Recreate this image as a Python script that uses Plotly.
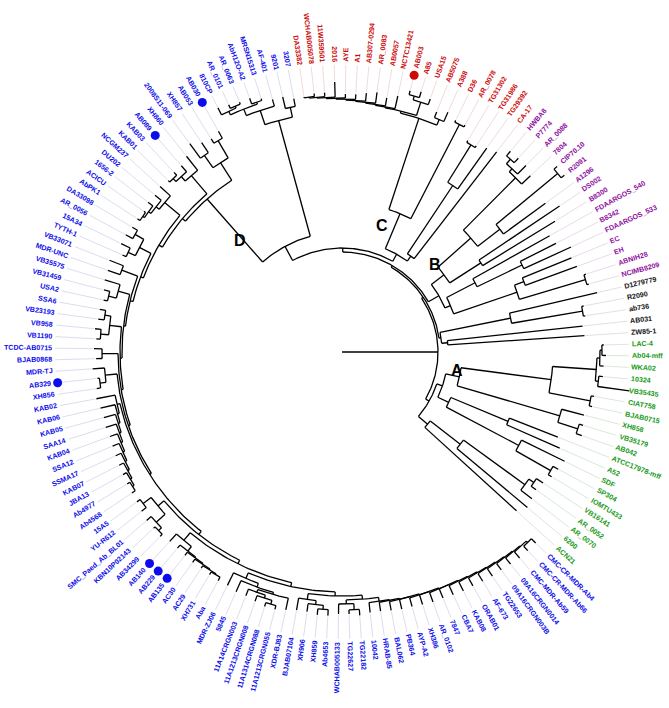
import math
import re
import plotly.graph_objects as go

# tree data: newick-like strings, the number after ":" is the distance from the root
CLADE_A = ("((ACN21:236,(6200:242,(AR_0070:240,(AR_0052:238,VB16141:240):232):226):150):112,"
           "((((IOMTU433:244,SP304:246):240,SDF:248):200,(A52:238,ATCC17978-mff:232):180):118,"
           "(((AB042:254,VB35179:252):248,XH858:250):227,((BJAB0715:256,CIAT758:256):253,"
           "((VB35435:290,10324:262):258,(WKA02:262,(Ab04-mff:264,LAC-4:262):260):258):255):211):120):106):100")
CLADE_K = "((ZW85-1:243,AB031:242):106,((ab736:246,R2090:246):244,D1279779:262):172):100"
CLADE_B = ("((((NCIMB8209:256,ABNIH28:256):254,(EH:250,EC:248):195):185,"
           "((FDAARGOS_533:252,B8342:240):200,FDAARGOS_540:238):150):118,"
           "((B8300:250,DS002:262):165,((A1296:252,(R2091:284,CIP70.10:284):280):200,"
           "(7804:258,(AR_0088:262,(P7774:262,HWBA8:262):256):250):246):172):128):112")
CLADE_C = ("((CA-17:253,(TG29392:250,(TG31986:246,TG31302:246):244):200):118,"
           "((AR_0078:258,D36:258):256,((A388:262,AB5075:258):252,((USA15:268,(A85:272,AB003:270):266):262,"
           "(NCTC13421:262,(AB0057:258,(AR_0083:262,(AB307-0294:260,(A1:258,(AYE:258,(2016:270,"
           "(11W359501:260,(WCHAB005078:260,DA33382:258):257):256):255):254):253):252):251):250):249):248):246):150):112")
D_TOP = ("((3207:258,9201:262):250,(AF-401:262,((MRSN15313:266,AbH12O-A2:270):264,"
         "((AR_0063:270,AR_0101:272):268,810CP:274):266):262):255):240")
D_SIDE = "((AB030:253,AB053:250):245,(XH857:252,2008S11-069:258):240):225"
D_GROUPS = [
    "(XH860:250,(AB089:246,(KAB03:246,KAB01:244):242):238):232",
    "(NCGM237:246,(DU202:244,(1656-2:245,(ACICU:243,AbPK1:244):241):239):236):232",
    "((DA33098:244,AR_0056:246):238,(15A34:246,TYTH-1:240):236):228",
    "(VB33071:250,MDR-UNC:248):235",
    "(VB35575:248,(VB31459:246,USA2:244):240):232",
    "((SSA6:246,VB23193:246):240,(VB958:248,VB1190:246):242):234",
    "(TCDC-AB0715:248,BJAB0868:246):240",
    "(MDR-TJ:250,(AB329:246,XH856:248):244):238",
    "(KAB02:250,(KAB06:248,(KAB05:247,(SAA14:248,(KAB04:247,(SSA12:248,(SSMA17:249,(KAB07:250,"
    "(JBA13:251,(Ab4977:252,Ab4568:253):249):247):245):243):241):239):237):235):233):231",
    "((15A5:254,YU-R612:256):250,(SMC_Paed_Ab_BL01:258,(KBN10P02143:258,AB34299:259):256):252):240",
    "(AB140:256,(AB229:256,(AB135:257,(AC30:258,(AC29:258,(XH731:259,Aba:260):256):255):254):253):252):246",
    "(MDR-ZJ06:260,(5845:262,((11A14CRGN003:262,(11A1213CRGN008:264,(11A1314CRGN088:266,"
    "11A1213CRGN055:266):262):258):255,XDR-BJ83:264):252):250):246",
    "(BJAB07104:262,(XH906:262,(XH859:264,Ab4653:264):258):254):250",
    "(WCHAB005133:262,(TG22627:262,TG22182:264):258):252",
    "(10042:262,(HRAB-85:262,(BAL062:263,(PB364:264,(AYP-A2:264,(XH386:265,(AR_0102:266,(7847:266,"
    "(CBA7:267,(KAB08:268,(ORAB01:268,(AF-673:269,(TG22653:270,(09A16CRGN003B:270,(09A16CRGN0014:271,"
    "(CMC-MDR-Ab59:272,(CMC-CR-MDR-Ab66:272,CMC-CR-MDR-Ab4:272):266):264):263):262):261):260):259):258)"
    ":257):256):256):255):255):254):254):253):252",
]
D_LADDER = [208, 212, 215, 218, 220, 222, 224, 226, 228, 232, 236, 240, 244, 248]

MARKED = ["AB003", "AB089", "AB030", "AB329", "AB140", "AB229", "AB135"]

CLADE_TAGS = [("A", 116, -9), ("B", 128, 43.4), ("C", 133, 72.5), ("D", 151, 132.3)]

# build full tree string
d3 = D_GROUPS[-1]
for g, d in zip(reversed(D_GROUPS[:-1]), reversed(D_LADDER)):
    d3 = "(" + g + "," + d3 + "):" + str(d)
CLADE_D = "(" + D_TOP + ",(" + D_SIDE + "," + d3 + "):204):120"
TREE = "(" + CLADE_A + ",(" + CLADE_K + ",(" + CLADE_B + ",(" + CLADE_C + "," + CLADE_D + "):104):100):98):96"

COLORS = {"A": "#169a16", "K": "#111111", "B": "#8e0e9e", "C": "#cc0a0a", "D": "#0b0bec"}
LINE_TINT = {"A": "#c8dcc8", "K": "#d2d2d2", "B": "#dccbe0", "C": "#ebcccc", "D": "#cdcde8"}


def leaf_names(s):
    return re.findall(r"[(,]([^(),:]+):", s)


color_of = {}
for key, s in [("A", CLADE_A), ("K", CLADE_K), ("B", CLADE_B), ("C", CLADE_C), ("D", CLADE_D)]:
    for n in leaf_names(s):
        color_of[n] = key


def parse(s):
    pos = 0

    def node():
        nonlocal pos
        kids = []
        name = ""
        if s[pos] == "(":
            pos += 1
            kids.append(node())
            while s[pos] == ",":
                pos += 1
                kids.append(node())
            pos += 1
        else:
            st = pos
            while s[pos] not in ":,()":
                pos += 1
            name = s[st:pos]
        pos += 1
        st = pos
        while pos < len(s) and s[pos] not in ",()":
            pos += 1
        return {"name": name, "kids": kids, "r": float(s[st:pos])}

    return node()


root = parse(TREE)
N = len(leaf_names(TREE))
TH0 = -42.3
DT = 360.0 / N

leaves = []


def place(nd):
    if not nd["kids"]:
        nd["a"] = TH0 + len(leaves) * DT
        leaves.append(nd)
    else:
        for k in nd["kids"]:
            place(k)
        nd["a"] = (nd["kids"][0]["a"] + nd["kids"][-1]["a"]) / 2


place(root)


def pt(r, a):
    t = math.radians(a)
    return r * math.cos(t), r * math.sin(t)


tx, ty = [], []


def seg(r1, r2, a):
    x1, y1 = pt(r1, a)
    x2, y2 = pt(r2, a)
    tx.extend([x1, x2, None])
    ty.extend([y1, y2, None])


def arc(r, a1, a2):
    n = max(2, int(abs(a2 - a1) / 0.8) + 2)
    for i in range(n):
        x, y = pt(r, a1 + (a2 - a1) * i / (n - 1))
        tx.append(x)
        ty.append(y)
    tx.append(None)
    ty.append(None)


def draw(nd):
    if nd["kids"]:
        arc(nd["r"], nd["kids"][0]["a"], nd["kids"][-1]["a"])
        for k in nd["kids"]:
            seg(nd["r"], k["r"], k["a"])
            draw(k)


seg(0, root["r"], 0)
draw(root)

fig = go.Figure()

# leader lines
R_END = 287
for key in COLORS:
    lx, ly = [], []
    for lf in leaves:
        if color_of[lf["name"]] != key:
            continue
        x1, y1 = pt(lf["r"] + 1, lf["a"])
        x2, y2 = pt(R_END, lf["a"])
        lx += [x1, x2, None]
        ly += [y1, y2, None]
    fig.add_trace(go.Scatter(x=lx, y=ly, mode="lines", line=dict(color=LINE_TINT[key], width=0.7),
                             hoverinfo="skip", showlegend=False))

fig.add_trace(go.Scatter(x=tx, y=ty, mode="lines", line=dict(color="black", width=1.3),
                         hoverinfo="skip", showlegend=False))

# marked strains
for key in ["C", "D"]:
    mx, my = [], []
    for lf in leaves:
        if lf["name"] in MARKED and color_of[lf["name"]] == key:
            x, y = pt(286, lf["a"])
            mx.append(x)
            my.append(y)
    fig.add_trace(go.Scatter(x=mx, y=my, mode="markers", marker=dict(color=COLORS[key], size=9),
                             hoverinfo="skip", showlegend=False))

# arial bold advance widths (em) to centre the rotated labels
W = {}
for c, w in zip("ABCDEFGHIJKLMNOPQRSTUVWXYZ",
                [.722, .722, .722, .722, .667, .611, .778, .722, .278, .556, .722, .611, .833, .722, .778,
                 .667, .778, .722, .667, .611, .722, .667, .944, .667, .667, .611]):
    W[c] = w
for c, w in zip("abcdefghijklmnopqrstuvwxyz",
                [.556, .611, .556, .611, .556, .333, .611, .611, .278, .278, .556, .278, .889, .611, .611,
                 .611, .611, .389, .556, .333, .611, .556, .778, .556, .556, .5]):
    W[c] = w
for c in "0123456789":
    W[c] = .556
W.update({"-": .333, "_": .556, ".": .278})

FS = 7.1
FONT = "Liberation Sans, Arial"
R_LAB = 290
annos = []
for lf in leaves:
    name = lf["name"]
    a = lf["a"]
    w = sum(W.get(c, .556) for c in name) * FS
    r0 = R_LAB + (3 if name in MARKED else 0)
    x, y = pt(r0 + w / 2, a)
    aa = a % 360
    ang = -aa if (aa <= 90 or aa >= 270) else 180 - aa
    while ang > 180:
        ang -= 360
    while ang < -180:
        ang += 360
    annos.append(dict(x=x, y=y, text="<b>" + name + "</b>", showarrow=False, textangle=ang,
                      xanchor="center", yanchor="middle", borderpad=0,
                      font=dict(family=FONT, size=FS, color=COLORS[color_of[name]])))

for t, r, a in CLADE_TAGS:
    x, y = pt(r, a)
    annos.append(dict(x=x, y=y, text="<b>" + t + "</b>", showarrow=False,
                      font=dict(family="Arial, Liberation Sans", size=16, color="black")))

fig.update_layout(
    width=669, height=708,
    margin=dict(l=0, r=0, t=0, b=0),
    paper_bgcolor="white", plot_bgcolor="white",
    xaxis=dict(range=[-342, 327], visible=False),
    yaxis=dict(range=[-356, 352], visible=False),
    annotations=annos,
    showlegend=False,
)

# drop the default 8px page margin so the figure sits at the window corner
fig.write_html("out.html", config={"displayModeBar": False},
               post_script="document.body.style.margin='0';")
